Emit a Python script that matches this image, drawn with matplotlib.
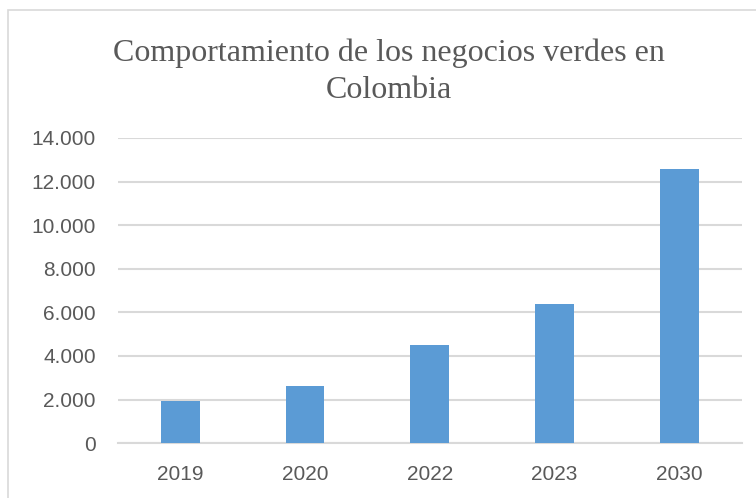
import matplotlib.pyplot as plt
from matplotlib.patches import Rectangle
from matplotlib.ticker import FuncFormatter

years = ["2019", "2020", "2022", "2023", "2030"]
negocios = [1925, 2640, 4505, 6380, 12595]
y_ticks = [0, 2000, 4000, 6000, 8000, 10000, 12000, 14000]

gray_text = "#595959"
bar_color = "#5B9BD5"
tick_font = ["Liberation Sans", "DejaVu Sans"]

fig = plt.figure(figsize=(7.56, 4.98), dpi=100)
ax = fig.add_axes([0.156, 0.110, 0.825, 0.613])

# chart frame (only left and top visible in the crop)
fig.patches.append(Rectangle((8 / 756, -0.1), 1.2, 1 - 10 / 498 + 0.1,
                             transform=fig.transFigure, fill=False,
                             edgecolor="#D9D9D9", linewidth=1.2))

x = range(len(years))
ax.bar(x, negocios, width=0.31, color=bar_color, zorder=3)

ax.set_xlim(-0.5, len(years) - 0.5)
ax.set_ylim(0, 14000)
ax.set_yticks(y_ticks)
ax.yaxis.set_major_formatter(FuncFormatter(lambda v, p: f"{int(v):,}".replace(",", ".")))
ax.set_xticks(list(x))
ax.set_xticklabels(years)

ax.grid(axis="y", color="#D9D9D9", linewidth=1.5, zorder=0)
for s in ["top", "right", "left"]:
    ax.spines[s].set_visible(False)
ax.spines["bottom"].set_color("#D9D9D9")
ax.spines["bottom"].set_linewidth(1.5)
ax.tick_params(length=0, colors=gray_text, labelsize=15)
ax.tick_params(axis="y", pad=16)
ax.tick_params(axis="x", pad=16)
for lbl in ax.get_xticklabels() + ax.get_yticklabels():
    lbl.set_family(tick_font)

fig.text(0.515, 0.856, "Comportamiento de los negocios verdes en\nColombia",
         ha="center", va="center", fontsize=23, color=gray_text,
         family=["Liberation Serif", "DejaVu Serif"], linespacing=1.4)

plt.savefig("out.png", dpi=100)
